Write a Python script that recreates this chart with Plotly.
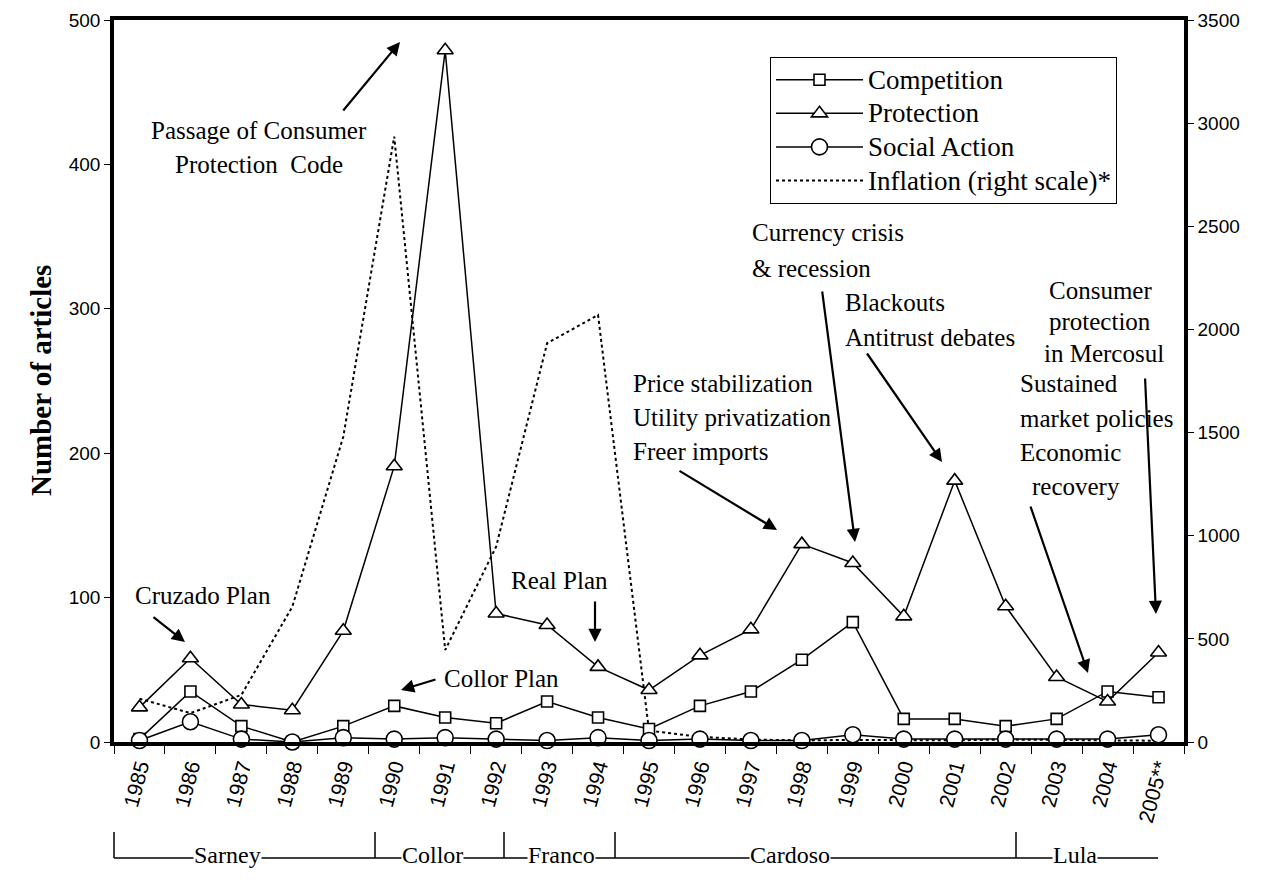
import plotly.graph_objects as go

# ---------------- data ----------------
years = ["1985", "1986", "1987", "1988", "1989", "1990", "1991", "1992", "1993", "1994",
         "1995", "1996", "1997", "1998", "1999", "2000", "2001", "2002", "2003", "2004", "2005**"]
competition = [2, 35, 11, 0, 11, 25, 17, 13, 28, 17, 9, 25, 35, 57, 83, 16, 16, 11, 16, 35, 31]
protection = [24, 58, 26, 22, 77, 191, 479, 89, 81, 52, 36, 60, 78, 137, 124, 87, 181, 94, 45, 28, 62]
social_action = [1, 14, 2, 0, 3, 2, 3, 2, 1, 3, 1, 2, 1, 1, 5, 2, 2, 2, 2, 2, 5]
inflation = [210, 140, 228, 656, 1480, 2935, 446, 947, 1933, 2070, 55, 25, 12, 8, 10, 8, 8, 12, 10, 8, 6]

presidents = ["Sarney", "Collor", "Franco", "Cardoso", "Lula"]

# ---------------- geometry helpers (layout only, page pixel coords) ----------------
OFF = 8                      # default body margin of the html page
W, H = 1266 - OFF, 880 - OFF
L, R, T, B = 114, 1184, 20, 742   # plot area in page pixels


def px(x):
    return (x - L) / (R - L)


def py(y):
    return (B - y) / (B - T)


SERIF = "Liberation Serif, Times New Roman, serif"
SANS = "Liberation Sans, Arial, sans-serif"
LEG = 27


def leg_name(s):
    return '<span style="font-size:%dpx">%s</span>' % (LEG, s)


fig = go.Figure()

fig.add_trace(go.Scatter(
    x=years, y=inflation, name=leg_name("Inflation (right scale)*"), mode="lines",
    line=dict(color="black", width=2, dash="dot"), yaxis="y", legendrank=4))

fig.add_trace(go.Scatter(
    x=years, y=competition, name=leg_name("Competition"), mode="lines+markers", yaxis="y2",
    line=dict(color="black", width=1.5), cliponaxis=False, legendrank=1,
    marker=dict(symbol="square", size=11, color="white", line=dict(color="black", width=1.6))))

fig.add_trace(go.Scatter(
    x=years, y=protection, name=leg_name("Protection"), mode="lines+markers", yaxis="y2",
    line=dict(color="black", width=1.5), cliponaxis=False, legendrank=2,
    marker=dict(symbol="triangle-up", size=14, color="white", line=dict(color="black", width=1.6))))

fig.add_trace(go.Scatter(
    x=years, y=social_action, name=leg_name("Social Action"), mode="lines+markers", yaxis="y2",
    line=dict(color="black", width=1.5), cliponaxis=False, legendrank=3,
    marker=dict(symbol="circle", size=16, color="white", line=dict(color="black", width=1.6))))

annotations = []


def text(t, x, y, anchor="left", size=25, **kw):
    annotations.append(dict(text=t, x=px(x), y=py(y), xref="paper", yref="paper",
                            xanchor=anchor, yanchor="middle", showarrow=False,
                            font=dict(family=SERIF, size=size, color="black"), **kw))


def arrow(tail, head):
    annotations.append(dict(text="", x=px(head[0]), y=py(head[1]), xref="paper", yref="paper",
                            ax=tail[0] - head[0], ay=tail[1] - head[1], axref="pixel", ayref="pixel",
                            showarrow=True, arrowhead=2, arrowsize=1.2, arrowwidth=2.2,
                            arrowcolor="black", standoff=0, startstandoff=0))


text("Passage of Consumer", 259, 131, anchor="center")
text("Protection  Code", 259, 164, anchor="center")
arrow((342, 112), (400, 42))

text("Cruzado Plan", 133, 595)
arrow((152, 616), (185, 642))

text("Collor Plan", 442, 678)
arrow((437, 679), (401, 690))

text("Real Plan", 509, 580)
arrow((595, 600), (595, 642))

text("Price stabilization", 631, 383)
text("Utility privatization", 631, 417)
text("Freer imports", 631, 451)
arrow((678, 470), (777, 530))

text("Currency crisis", 750, 233)
text("&amp; recession", 750, 268)
arrow((822, 290), (855, 542))

text("Blackouts", 843, 302)
text("Antitrust debates", 843, 337)
arrow((866, 352), (942, 462))

text("Consumer", 1047, 290)
text("protection", 1047, 321)
text("in Mercosul", 1042, 353)
arrow((1145, 377), (1156, 614))

text("Sustained", 1018, 383)
text("market policies", 1018, 418)
text("Economic", 1018, 452)
text("recovery", 1030, 487)
arrow((1030, 505), (1088, 673))

# y axis title
annotations.append(dict(text="<b>Number of articles</b>", x=px(41), y=py(381), xref="paper", yref="paper",
                        textangle=-90, showarrow=False, xanchor="center", yanchor="middle",
                        font=dict(family=SERIF, size=29, color="black")))

# president bracket row
shapes = []
bar_top, line_y = 832, 858
for bx in [114, 375, 504, 615, 1016]:
    shapes.append(dict(type="line", xref="paper", yref="paper", x0=px(bx), x1=px(bx),
                       y0=py(bar_top), y1=py(line_y), line=dict(color="black", width=1.5)))
shapes.append(dict(type="line", xref="paper", yref="paper", x0=px(114), x1=px(1158),
                   y0=py(line_y), y1=py(line_y), line=dict(color="black", width=1.5)))
for name, cx in zip(presidents, [227, 432, 561, 790, 1075]):
    annotations.append(dict(text=name, x=px(cx), y=py(855), xref="paper", yref="paper",
                            xanchor="center", yanchor="middle", showarrow=False, bgcolor="white",
                            borderpad=0, font=dict(family=SERIF, size=24, color="black")))

fig.update_layout(
    width=W, height=H,
    margin=dict(l=L - OFF, r=W - (R - OFF), t=T - OFF, b=H - (B - OFF), pad=0),
    paper_bgcolor="white", plot_bgcolor="white",
    showlegend=True,
    legend=dict(x=px(770), y=py(57), xanchor="left", yanchor="top",
                bgcolor="white", bordercolor="black", borderwidth=1,
                font=dict(family=SERIF, size=23.5, color="black"),
                itemwidth=87, tracegroupgap=0, traceorder="normal"),
    xaxis=dict(type="category", range=[-0.5, 20.5], showline=True, linecolor="black", linewidth=4,
               mirror=True, ticks="outside", tickson="boundaries", ticklen=8, tickwidth=1,
               tickcolor="black", tickangle=-75, showgrid=False, zeroline=False, automargin=False,
               tickfont=dict(family=SANS, size=21, color="black")),
    yaxis=dict(side="right", range=[0, 3500], dtick=500, showline=True, linecolor="black",
               linewidth=3.5, ticks="outside", ticklen=6, tickcolor="black", showgrid=False,
               zeroline=False, automargin=False, tickfont=dict(family=SANS, size=19, color="black")),
    yaxis2=dict(side="left", overlaying="y", range=[0, 500], dtick=100, showline=True,
                linecolor="black", linewidth=3.5, mirror=False, ticks="outside", ticklen=6,
                tickcolor="black", showgrid=False, zeroline=False, automargin=False,
                tickfont=dict(family=SANS, size=19, color="black")),
    annotations=annotations,
    shapes=shapes,
)

fig.write_html("out.html")
